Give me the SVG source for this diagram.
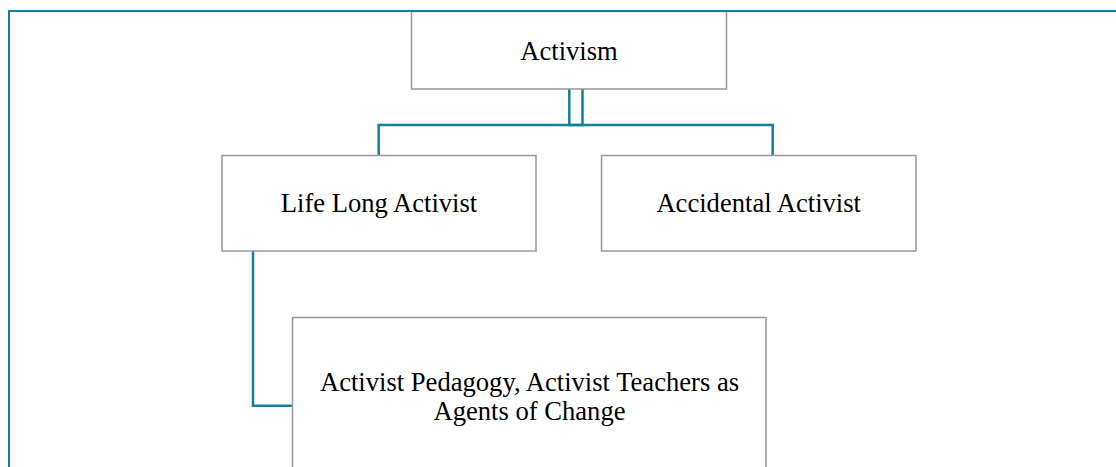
<svg xmlns="http://www.w3.org/2000/svg" width="1116" height="467" viewBox="0 0 1116 467">
<style>
.node rect{fill:#fff;stroke:#999;stroke-width:1.5}
.node text{font-family:"Liberation Serif","Times New Roman",serif;font-size:26.6px;fill:#000;text-anchor:middle}
.conn path{fill:none;stroke:#15809d;stroke-width:2.5}
.frame{fill:none;stroke:#15809d;stroke-width:2}
</style>
<rect width="1116" height="467" fill="#fff"/>
<g class="conn">
<path d="M582.5 89 V125 H378.7 V155.5"/>
<path d="M569.3 89 V125 H772.7 V155.5"/>
<path d="M253 251 V405.7 H292.5"/>
</g>
<g id="activism" class="node">
<rect x="411.5" y="11.5" width="315" height="77.5"/>
<text x="569" y="60">Activism</text>
</g>
<g id="lifelong" class="node">
<rect x="222" y="155.5" width="314" height="95.5"/>
<text x="379" y="212">Life Long Activist</text>
</g>
<g id="accidental" class="node">
<rect x="601.5" y="155.5" width="314.5" height="95.5"/>
<text x="758.7" y="212">Accidental Activist</text>
</g>
<g id="pedagogy" class="node">
<rect x="292.5" y="317.5" width="473.5" height="180"/>
<text x="529.5" y="391">Activist Pedagogy, Activist Teachers as</text>
<text x="529.5" y="420">Agents of Change</text>
</g>
<path class="frame" d="M9 467 V11 H1116"/>
</svg>
